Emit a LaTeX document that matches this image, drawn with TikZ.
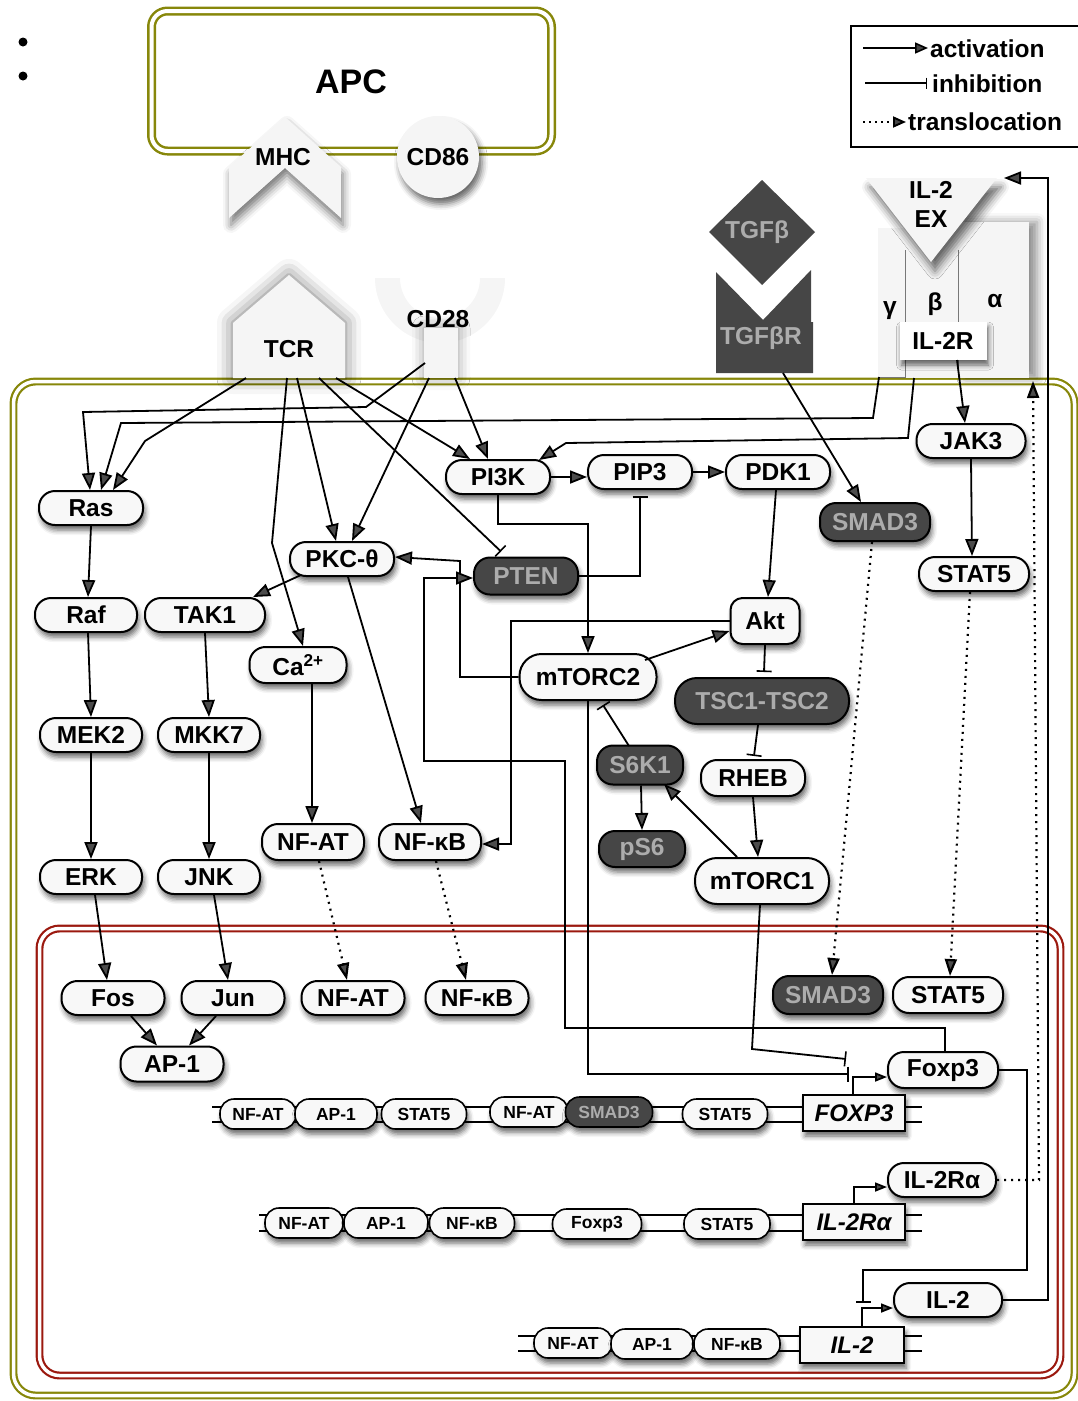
\documentclass[tikz,border=0pt]{standalone}
\usepackage{fontspec}
\setmainfont{Liberation Sans}
\usetikzlibrary{arrows.meta,shadows.blur,calc}

\definecolor{olivec}{RGB}{135,135,10}
\definecolor{nucred}{RGB}{155,25,15}
\definecolor{pillfill}{RGB}{248,248,248}
\definecolor{darkfill}{RGB}{70,70,70}
\definecolor{darktxt}{RGB}{172,172,172}
\definecolor{recfill}{RGB}{245,245,245}
\definecolor{chainline}{RGB}{120,120,120}

\newcommand\pwfont{\fontsize{24.5}{28}\selectfont\bfseries}
\newcommand\pwsmall{\fontsize{17.5}{20}\selectfont\bfseries}
\newcommand\pwgene{\fontsize{24}{27}\selectfont\bfseries\itshape}

\begin{document}
\begin{tikzpicture}[x=1pt,y=-1pt,
  sh/.style={blur shadow={shadow xshift=2pt,shadow yshift=-5pt,shadow blur radius=5pt,shadow opacity=60}},
  glow/.style={blur shadow={shadow xshift=0pt,shadow yshift=0pt,shadow blur radius=16pt,shadow opacity=55}},
  prot/.style={draw=black,line width=2pt,fill=pillfill,rounded corners=16pt,minimum height=34pt,inner sep=1pt,font=\pwfont,sh},
  tall/.style={prot,minimum height=46pt,rounded corners=22pt},
  dark/.style={fill=darkfill,text=darktxt},
  site/.style={prot,minimum height=30pt,rounded corners=14pt,line width=1.6pt,font=\pwsmall},
  gene/.style={draw=black,line width=1.8pt,fill=pillfill,minimum width=102pt,minimum height=36pt,inner sep=1pt,font=\pwgene,sh},
  act/.style={line width=1.8pt,-{Triangle[length=17pt,width=13pt]}},
  actS/.style={line width=1.8pt,-{Triangle[length=12pt,width=9pt]}},
  inh/.style={line width=1.8pt,-{Bar[width=15pt,line width=1.6pt]}},
  trans/.style={line width=2.2pt,dash pattern=on 2pt off 5pt,-{Triangle[length=17pt,width=12pt]}},
  lbl/.style={font=\pwfont,inner sep=0pt},
  dna/.style={line width=1.8pt},
]
\useasboundingbox (0,0) rectangle (1078,1401);

% ---------- bullets ----------
\node[circle,fill=black,inner sep=0pt,minimum size=9pt] (dotA) at (23,42) {};
\node[circle,fill=black,inner sep=0pt,minimum size=9pt] (dotB) at (23,76) {};

% ---------- antigen presenting cell ----------
\draw[draw=olivec,line width=2.5pt,double=white,double distance=4pt,rounded corners=16pt]
  (151.5,11) rectangle (551.5,151);
\node[font=\fontsize{34}{38}\selectfont\bfseries,inner sep=0pt] (apc) at (351,82) {APC};
\path[fill=recfill,blur shadow={shadow xshift=2pt,shadow yshift=-7pt,shadow blur radius=8pt,shadow opacity=55}]
  (285,117) -- (341,167) -- (341,218) -- (285,168) -- (229,218) -- (229,167) -- cycle;
\node[lbl] (mhc) at (283,157) {MHC};
\node[circle,fill=recfill,minimum size=82pt,inner sep=0pt,font=\pwfont,
  blur shadow={shadow xshift=3pt,shadow yshift=-6pt,shadow blur radius=6pt,shadow opacity=60}] (cd86) at (438,157) {CD86};

% ---------- legend ----------
\draw[line width=1.6pt] (851,26) rectangle (1095,147);
\coordinate (la1) at (863,48);  \coordinate (la2) at (928,48);
\coordinate (li1) at (865,83);  \coordinate (li2) at (927,83);
\coordinate (lt1) at (863,122); \coordinate (lt2) at (906,122);
\draw[line width=1.6pt,-{Triangle[length=13pt,width=11pt]}] (la1) -- (la2);
\draw[line width=1.6pt,-{Bar[width=11pt,line width=1.4pt]}] (li1) -- (li2);
\draw[line width=1.9pt,dash pattern=on 2pt off 4pt,-{Triangle[length=13pt,width=11pt]}] (lt1) -- (lt2);
\node[lbl,anchor=base west] (lgA) at (930,57) {activation};
\node[lbl,anchor=base west] (lgI) at (932,92) {inhibition};
\node[lbl,anchor=base west] (lgT) at (908,130) {translocation};

% ---------- cell membrane and nucleus ----------
\draw[draw=olivec,line width=2.2pt,double=white,double distance=3.5pt,rounded corners=22pt]
  (13.5,381.5) rectangle (1074.5,1395.5);
\draw[draw=nucred,line width=2.2pt,double=white,double distance=3.5pt,rounded corners=20pt]
  (39.5,928.5) rectangle (1060.5,1375.5);

% ---------- receptors ----------
\path[fill=recfill,glow] (289,275) -- (345,323) -- (345,378) -- (233,378) -- (233,323) -- cycle;
\node[lbl] (tcr) at (289,349) {TCR};

\begin{scope}
  \clip (370,278) rectangle (510,350);
  \path[fill=recfill,even odd rule] (440,278) circle[radius=65pt] (440,278) circle[radius=40pt];
\end{scope}
\path[fill=recfill,blur shadow={shadow xshift=0pt,shadow yshift=0pt,shadow blur radius=12pt,shadow opacity=40}]
  (424,328) rectangle (458,378);
\node[lbl] (cd28) at (438,319) {CD28};

\path[fill=darkfill] (762,180) -- (815,232) -- (762,285) -- (709,232) -- cycle;
\node[lbl,text=darktxt] (tgfb) at (757,232) {TGFβ};
\path[fill=darkfill] (716,272) -- (763,320) -- (811,270) -- (811,322) -- (813,322) -- (813,373) -- (716,373) -- cycle;
\node[lbl,text=darktxt] (tgfbr) at (761,338) {TGFβR};

% IL-2 receptor chains gamma, beta, alpha
\path[fill=recfill,blur shadow={shadow xshift=8pt,shadow yshift=0pt,shadow blur radius=9pt,shadow opacity=45}]
  (958,222) rectangle (1029,378);
\path[fill=recfill] (878,228) rectangle (958,378);
\draw[chainline,line width=1pt] (905,250) -- (905,377) -- (878,377);
\draw[chainline,line width=1pt] (958,250) -- (958,378);
\path[fill=recfill,blur shadow={shadow xshift=4pt,shadow yshift=-9pt,shadow blur radius=8pt,shadow opacity=60}]
  (866,178) -- (997,178) -- (931,262) -- cycle;
\node[lbl] (il2exA) at (931,190) {IL-2};
\node[lbl] (il2exB) at (931,219) {EX};
\node[lbl] (gam) at (890,311) {γ};
\node[lbl] (bet) at (935,304) {β};
\node[lbl] (alp) at (995,301) {α};
\node[lbl,fill=white,minimum width=87pt,minimum height=38pt,sh] (il2r) at (943,341) {IL-2R};

% ---------- promoter DNA strands ----------
\draw[dna] (212,1107) -- (922,1107);
\draw[dna] (212,1122) -- (922,1122);
\draw[dna] (259,1215) -- (922,1215);
\draw[dna] (259,1231) -- (922,1231);
\draw[dna] (518,1336) -- (922,1336);
\draw[dna] (518,1351) -- (922,1351);

% ---------- cytoplasmic proteins ----------
\node[prot,minimum width=104pt] (ras) at (91,508) {Ras};
\node[prot,minimum width=102pt] (raf) at (86,615) {Raf};
\node[prot,minimum width=120pt] (tak1) at (205,615) {TAK1};
\node[prot,minimum width=104pt] (pkc) at (342,559) {PKC-θ};
\node[prot,minimum width=104pt] (pi3k) at (498,477) {PI3K};
\node[prot,minimum width=104pt] (pip3) at (640,472) {PIP3};
\node[prot,minimum width=104pt] (pdk1) at (778,472) {PDK1};
\node[prot,dark,minimum width=110pt,minimum height=38pt] (smadc) at (875,522) {SMAD3};
\node[prot,minimum width=109pt] (jak3) at (971,441) {JAK3};
\node[prot,minimum width=110pt] (statc) at (974,574) {STAT5};
\node[prot,dark,minimum width=104pt,minimum height=37pt] (pten) at (526,576) {PTEN};
\node[prot,minimum width=69pt,minimum height=46pt,rounded corners=12pt] (akt) at (765,621) {Akt};
\node[tall,minimum width=137pt] (mtorc2) at (588,677) {mTORC2};
\node[tall,dark,minimum width=174pt] (tsc) at (762,701) {TSC1-TSC2};
\node[prot,dark,minimum width=86pt,minimum height=39pt] (s6k1) at (640,765) {S6K1};
\node[prot,minimum width=104pt,minimum height=36pt] (rheb) at (753,778) {RHEB};
\node[prot,dark,minimum width=86pt,minimum height=36pt] (ps6) at (642,849) {pS6};
\node[tall,minimum width=134pt] (mtorc1) at (762,881) {mTORC1};
\node[prot,minimum width=97pt,minimum height=36pt] (ca) at (298,665) {Ca\textsuperscript{2+}};
\node[prot,minimum width=102pt] (mek2) at (91,735) {MEK2};
\node[prot,minimum width=102pt] (mkk7) at (209,735) {MKK7};
\node[prot,minimum width=102pt,minimum height=36pt] (nfatc) at (313,842) {NF-AT};
\node[prot,minimum width=102pt,minimum height=36pt] (nfkbc) at (430,842) {NF-κB};
\node[prot,minimum width=102pt] (erk) at (91,877) {ERK};
\node[prot,minimum width=102pt] (jnk) at (209,877) {JNK};

% ---------- nuclear proteins ----------
\node[prot,minimum width=103pt] (fos) at (113,998) {Fos};
\node[prot,minimum width=103pt] (jun) at (233,998) {Jun};
\node[prot,minimum width=103pt] (nfatn) at (353,998) {NF-AT};
\node[prot,minimum width=103pt] (nfkbn) at (477,998) {NF-κB};
\node[prot,minimum width=103pt,minimum height=35pt] (ap1) at (172,1064) {AP-1};
\node[prot,dark,minimum width=110pt,minimum height=38pt] (smadn) at (828,995) {SMAD3};
\node[prot,minimum width=110pt,minimum height=36pt] (statn) at (948,995) {STAT5};
\node[prot,minimum width=110pt,minimum height=36pt] (foxp3p) at (943,1070) {Foxp3};
\node[prot,minimum width=108pt] (il2rap) at (942,1180) {IL-2Rα};
\node[prot,minimum width=108pt] (il2p) at (948,1300) {IL-2};

% ---------- promoter sites and genes ----------
\node[site,minimum width=76pt] (r1a) at (258,1114) {NF-AT};
\node[site,minimum width=82pt] (r1b) at (336,1114) {AP-1};
\node[site,minimum width=85pt] (r1c) at (424,1114) {STAT5};
\node[site,minimum width=78pt] (r1d) at (529,1112) {NF-AT};
\node[site,dark,minimum width=87pt] (r1e) at (609,1112) {SMAD3};
\node[site,minimum width=85pt] (r1f) at (725,1114) {STAT5};
\node[gene] (foxp3g) at (854,1113) {FOXP3};

\node[site,minimum width=78pt] (r2a) at (304,1223) {NF-AT};
\node[site,minimum width=84pt] (r2b) at (386,1223) {AP-1};
\node[site,minimum width=85pt] (r2c) at (472,1223) {NF-κB};
\node[site,minimum width=89pt] (r2d) at (597,1224) {Foxp3};
\node[site,minimum width=86pt] (r2e) at (727,1224) {STAT5};
\node[gene] (il2rag) at (854,1222) {IL-2Rα};

\node[site,minimum width=78pt] (r3a) at (573,1343) {NF-AT};
\node[site,minimum width=82pt] (r3b) at (652,1344) {AP-1};
\node[site,minimum width=86pt] (r3c) at (737,1344) {NF-κB};
\node[gene,minimum width=104pt] (il2g) at (852,1345) {IL-2};

% ---------- connector end points ----------
\coordinate (tcrA) at (246,378);
\coordinate (tcrB) at (287,378);
\coordinate (tcrC) at (297,378);
\coordinate (tcrD) at (319,378);
\coordinate (tcrE) at (336,378);
\coordinate (cdA) at (425,363);
\coordinate (cdB) at (429,378);
\coordinate (cdC) at (455,378);
\coordinate (gamO) at (879,377);
\coordinate (betO) at (914,378);
\coordinate (alpO) at (957,360);
\coordinate (tgfO) at (783,373);
\coordinate (exIn) at (1004,178);
\coordinate (alpIn) at (1033,381);
\coordinate (fxBarA) at (846,1059);
\coordinate (fxBarB) at (849,1074);
\coordinate (il2Bar) at (863,1303);

% ---------- receptor signalling ----------
\draw[act] (tcrA) -- (145,441) -- ([xshift=22pt]ras.north);
\draw[act] (cdA) -- (366,407) -- (83,412) -- ([xshift=-1pt]ras.north);
\draw[act] (gamO) -- (873,418) -- (121,423) -- ([xshift=10pt]ras.north);
\draw[act] (betO) -- (908,438) -- (566,443) -- ([xshift=41pt,yshift=-1pt]pi3k.north);
\draw[act] (tcrE) -- ([xshift=-28pt]pi3k.north);
\draw[act] (cdC) -- ([xshift=-10pt]pi3k.north);
\draw[act] (tcrC) -- ([xshift=-6pt]pkc.north);
\draw[act] (cdB) -- ([xshift=10pt]pkc.north);
\draw[act] (tcrB) -- (272,543) -- ([xshift=5pt]ca.north);
\draw[inh] (tcrD) -- ([xshift=-25pt,yshift=5pt]pten.north);
\draw[act] (tgfO) -- ([xshift=-14pt]smadc.north);
\draw[act] (alpO) -- ([xshift=-6pt]jak3.north);
\draw[act] (jak3.south) -- ([xshift=-2pt]statc.north);

% ---------- MAPK and calcium branches ----------
\draw[act] ([xshift=-41pt,yshift=2pt]pkc.south) -- ([xshift=48pt]tak1.north);
\draw[act] ([xshift=6pt]pkc.south) -- ([xshift=-9pt]nfkbc.north);
\draw[act] ([xshift=14pt]ca.south) -- ([xshift=-1pt]nfatc.north);
\draw[act] (ras.south) -- ([xshift=2pt]raf.north);
\draw[act] ([xshift=2pt]raf.south) -- (mek2.north);
\draw[act] (tak1.south) -- (mkk7.north);
\draw[act] (mek2.south) -- (erk.north);
\draw[act] (mkk7.south) -- (jnk.north);
\draw[act] ([xshift=4pt]erk.south) -- ([xshift=-6pt]fos.north);
\draw[act] ([xshift=5pt]jnk.south) -- ([xshift=-5pt]jun.north);
\draw[act] ([xshift=18pt]fos.south) -- ([xshift=-15pt]ap1.north);
\draw[act] ([xshift=-17pt]jun.south) -- ([xshift=17pt]ap1.north);

% ---------- PI3K / mTOR network ----------
\draw[act] (pi3k.east) -- (pi3k.east -| pip3.west);
\draw[act] (pip3.east) -- (pdk1.west);
\draw[act] (pi3k.south) -- ++(0,29) -| (mtorc2.north);
\draw[inh] (pten.east) -| ([yshift=-6pt]pip3.south);
\draw[act] ([xshift=-2pt]pdk1.south) -- ([xshift=3pt]akt.north);
\draw[act] ($(mtorc2.center)+(57,-17)$) -- ([yshift=-10pt]akt.west);
\draw[inh] (akt.south) -- ([xshift=2pt,yshift=5pt]tsc.north);
\draw[inh] ([xshift=-4pt]tsc.south) -- ([xshift=1pt,yshift=3pt]rheb.north);
\draw[act] (rheb.south) -- ([xshift=-4pt]mtorc1.north);
\draw[act] ([xshift=-25pt]mtorc1.north) -- ($(s6k1.center)+(24,19)$);
\draw[inh] ($(s6k1.center)+(-11,-19)$) -- ($(mtorc2.center)+(15,28)$);
\draw[act] ([xshift=1pt]s6k1.south) -- (ps6.north);
\draw[act] (akt.west) -| ($(nfkbc.east)+(29,2)$) -- ([yshift=-2pt]nfkbc.east);
\draw[act] (mtorc2.west) -| ($(pkc.east)+(65,2)$) -- ([yshift=2pt]pkc.east);
\draw[act] ([xshift=2pt]foxp3p.north) |- (565,1028) -- (565,761) -- (424,761) |- ([yshift=-2pt]pten.west);

% ---------- translocation into the nucleus ----------
\draw[trans] ([xshift=6pt]nfatc.south) -- ([xshift=-6pt]nfatn.north);
\draw[trans] ([xshift=6pt]nfkbc.south) -- ([xshift=-11pt]nfkbn.north);
\draw[trans] ([xshift=-3pt]smadc.south) -- ([xshift=4pt]smadn.north);
\draw[trans] ([xshift=-4pt]statc.south) -- ([xshift=2pt]statn.north);

% ---------- transcription and feedback ----------
\draw[inh] ([xshift=0pt]mtorc2.south) |- (fxBarB);
\draw[inh] ([xshift=-2pt]mtorc1.south) -- (752,1049) -- (fxBarA);
\draw[actS] ([xshift=-1pt]foxp3g.north) |- ([yshift=-7pt]foxp3p.west);
\draw[actS] (il2rag.north) |- ([yshift=-7pt]il2rap.west);
\draw[actS] ([xshift=10pt]il2g.north) |- ([yshift=-8pt]il2p.west);
\draw[inh] (foxp3p.east) -| (1027,1270) -| (il2Bar);
\draw[act] (il2p.east) -| (1048,178) -- (exIn);
\draw[trans] (il2rap.east) -- (1039,1180) -- (alpIn);

\end{tikzpicture}
\end{document}
